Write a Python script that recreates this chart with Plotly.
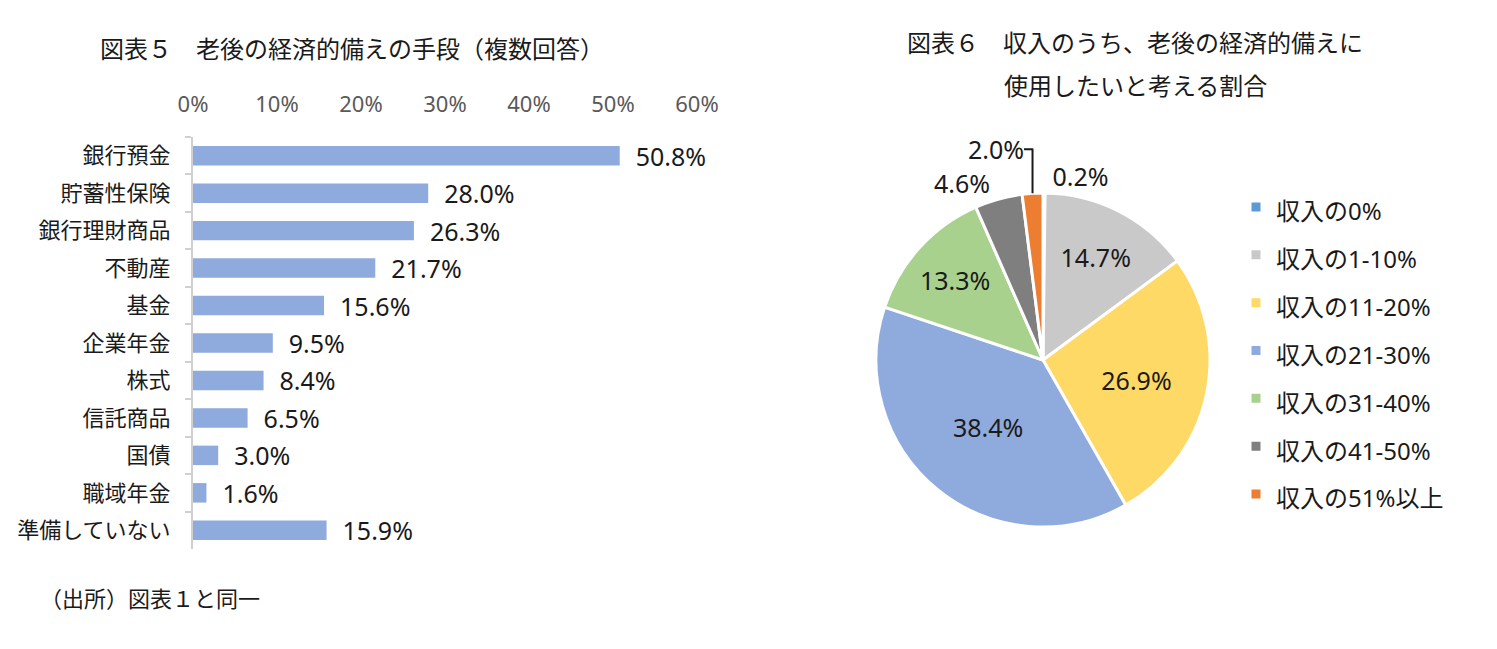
import plotly.graph_objects as go

# 図表5 data (top to bottom)
means = ["銀行預金", "貯蓄性保険", "銀行理財商品", "不動産", "基金", "企業年金",
         "株式", "信託商品", "国債", "職域年金", "準備していない"]
means_pct = [50.8, 28.0, 26.3, 21.7, 15.6, 9.5, 8.4, 6.5, 3.0, 1.6, 15.9]

# 図表6 data (clockwise from 12 o'clock)
share_labels = ["収入の0%", "収入の1-10%", "収入の11-20%", "収入の21-30%",
                "収入の31-40%", "収入の41-50%", "収入の51%以上"]
share_pct = [0.2, 14.7, 26.9, 38.4, 13.3, 4.6, 2.0]
share_colors = ["#5B9BD5", "#C9C9C9", "#FFD966", "#8FAADC", "#A9D18E", "#7F7F7F", "#ED7D31"]
share_textpos = ["outside", "inside", "inside", "inside", "inside", "outside", "outside"]

x_ticks = [0, 10, 20, 30, 40, 50, 60]

FONT = "Noto Sans, Noto Sans CJK JP"
W, H = 1497, 649
OFF = 8  # page body margin


def px(x):
    return (x - OFF) / W


def py(y):
    return 1 - (y - OFF) / H


fig = go.Figure()

fig.add_trace(go.Bar(
    y=means, x=means_pct, orientation="h",
    marker=dict(color="#8FAADC", line=dict(width=0)),
    text=["  %.1f%%" % v for v in means_pct],
    textposition="outside", constraintext="none", cliponaxis=False,
    textfont=dict(family=FONT, size=25, color="#1a1a1a"),
    showlegend=False,
))

fig.add_trace(go.Pie(
    labels=['<span style="font-size:24px">%s</span>' % s for s in share_labels],
    values=share_pct, sort=False, direction="clockwise", rotation=0,
    marker=dict(colors=share_colors, line=dict(color="white", width=3)),
    text=["%.1f%%" % v for v in share_pct], textinfo="text",
    textposition=share_textpos,
    textfont=dict(family=FONT, size=25, color="#1a1a1a"),
    hoverinfo="label+percent",
    domain=dict(x=[px(876), px(1210)], y=[py(527), py(193)]),
))

fig.update_layout(
    width=W, height=H,
    margin=dict(l=0, r=0, t=0, b=0, autoexpand=False),
    paper_bgcolor="white", plot_bgcolor="white",
    font=dict(family=FONT, color="#1a1a1a"),
    bargap=0.48,
    xaxis=dict(
        domain=[px(193), px(697)], range=[0, 60], side="top", automargin=False,
        tickvals=x_ticks, ticktext=["%d%%" % t for t in x_ticks],
        tickfont=dict(size=22, color="#595959"),
        showgrid=False, zeroline=False, showline=False, ticks="",
        ticklabelstandoff=20,
    ),
    yaxis=dict(
        domain=[py(549), py(137)], autorange="reversed", automargin=False,
        showgrid=False, zeroline=False,
        showline=True, linecolor="#D0D0D0", linewidth=2,
        ticks="outside", tickson="boundaries", ticklen=6, tickcolor="#D0D0D0", tickwidth=2,
        tickfont=dict(size=22, color="#1a1a1a"), ticklabelstandoff=16,
    ),
    legend=dict(
        x=px(1236), y=py(178), xanchor="left", yanchor="top",
        font=dict(family=FONT, size=34.5, color="#1a1a1a"),
        itemclick=False, itemwidth=30,
    ),
    annotations=[
        dict(text="図表５　老後の経済的備えの手段（複数回答）", x=px(352), y=py(48),
             xanchor="center", yanchor="middle",
             xref="paper", yref="paper", showarrow=False, font=dict(size=24)),
        dict(text="図表６　収入のうち、老後の経済的備えに", x=px(1135), y=py(42),
             xanchor="center", yanchor="middle",
             xref="paper", yref="paper", showarrow=False, font=dict(size=24)),
        dict(text="使用したいと考える割合", x=px(1135), y=py(85),
             xanchor="center", yanchor="middle",
             xref="paper", yref="paper", showarrow=False, font=dict(size=24)),
        dict(text="（出所）図表１と同一", x=px(38), y=py(598),
             xanchor="left", yanchor="middle",
             xref="paper", yref="paper", showarrow=False, font=dict(size=22)),
    ],
)

fig.write_html("out.html")
